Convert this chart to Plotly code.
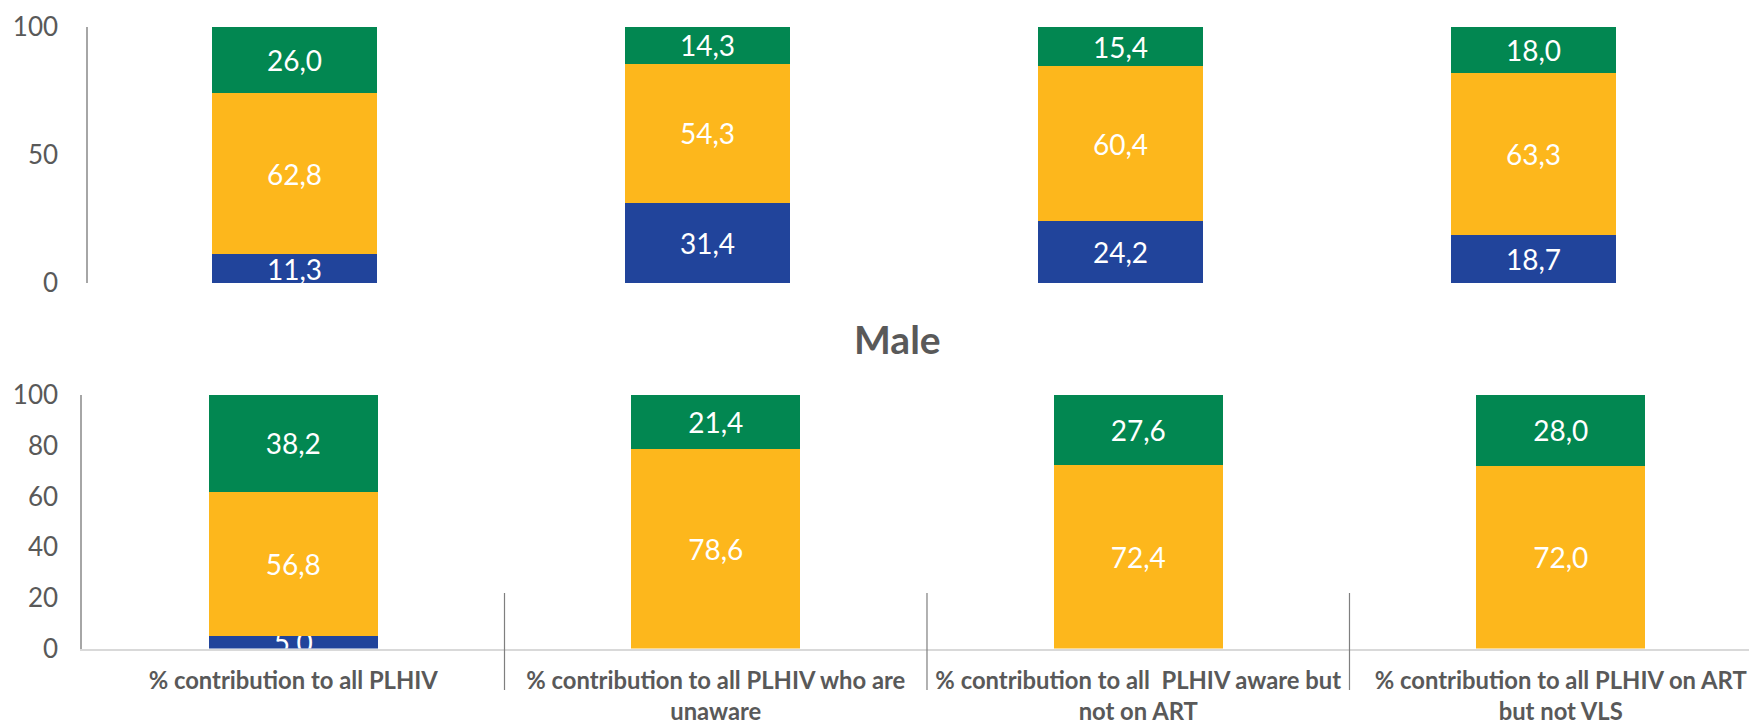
import plotly.graph_objects as go

categories = [
    "% contribution to all PLHIV",
    "% contribution to all PLHIV who are<br>unaware",
    "% contribution to all  PLHIV aware but<br>not on ART",
    "% contribution to all PLHIV on ART<br>but not VLS",
]

# Top panel
top_blue = [11.3, 31.4, 24.2, 18.7]
top_yellow = [62.8, 54.3, 60.4, 63.3]
top_green = [26.0, 14.3, 15.4, 18.0]

# Bottom panel (Male)
male_blue = [5.0, 0.0, 0.0, 0.0]
male_yellow = [56.8, 78.6, 72.4, 72.0]
male_green = [38.2, 21.4, 27.6, 28.0]

top_ticks = [0, 50, 100]
male_ticks = [0, 20, 40, 60, 80, 100]

BLUE = "#21449B"
YELLOW = "#FDB71C"
GREEN = "#028751"
GREY = "#595959"
FONT = "Lato"

# page body has an 8px margin: the figure starts at (8, 8) in the window
OFF = 8
W, H = 1757 - OFF, 726 - OFF


def fmt(vals):
    return [("%.1f" % v).replace(".", ",") if v > 0 else "" for v in vals]


fig = go.Figure()

def add_bars(vals, color, xa, ya):
    fig.add_trace(go.Bar(
        x=categories, y=vals, marker=dict(color=color, line=dict(width=0)),
        text=fmt(vals), texttemplate="%{text}", textposition="inside",
        insidetextanchor="middle", constraintext="none", textangle=0,
        insidetextfont=dict(color="white", size=28, family=FONT),
        cliponaxis=True, xaxis=xa, yaxis=ya, showlegend=False, hoverinfo="skip",
    ))

add_bars(top_blue, BLUE, "x", "y")
add_bars(top_yellow, YELLOW, "x", "y")
add_bars(top_green, GREEN, "x", "y")
add_bars(male_blue, BLUE, "x2", "y2")
add_bars(male_yellow, YELLOW, "x2", "y2")
add_bars(male_green, GREEN, "x2", "y2")

px = lambda v: (v - OFF) / W
py = lambda v: 1 - (v - OFF) / H

fig.update_layout(
    width=W, height=H,
    margin=dict(l=0, r=0, t=0, b=0, autoexpand=False),
    paper_bgcolor="white", plot_bgcolor="white",
    barmode="stack", bargap=0.6,
    font=dict(family=FONT, color=GREY),
    showlegend=False,
    xaxis=dict(domain=[px(88), px(1740)], type="category", range=[-0.5, 3.5],
               showticklabels=False, showline=False, showgrid=False, zeroline=False,
               automargin=False,
               anchor="y", categoryorder="array", categoryarray=categories),
    yaxis=dict(domain=[py(283), py(27)], range=[0, 100], tickvals=top_ticks,
               showline=True, linecolor="#A6A6A6", linewidth=1.5, showgrid=False,
               zeroline=False, ticks="", ticklabelstandoff=23, automargin=False,
               tickfont=dict(size=26, color=GREY, family=FONT), anchor="x"),
    xaxis2=dict(domain=[px(82), 1.0], type="category",
                range=[-0.5, 3.5 - (1772 - 1757) / 423], showline=True,
                linecolor="#D9D9D9", linewidth=2, showgrid=False, zeroline=False,
                ticks="", ticklabelstandoff=10, automargin=False,
                tickfont=dict(size=23.8, color=GREY, family=FONT, weight="bold"),
                anchor="y2", categoryorder="array", categoryarray=categories),
    yaxis2=dict(domain=[py(648.5), py(395)], range=[0, 100], tickvals=male_ticks,
                showline=True, linecolor="#A6A6A6", linewidth=1.5, showgrid=False,
                zeroline=False, ticks="", ticklabelstandoff=17, automargin=False,
                tickfont=dict(size=26, color=GREY, family=FONT), anchor="x2"),
)

# category separators (at category boundaries)
for i in range(len(categories) - 1):
    fig.add_shape(type="line", xref="x2", yref="paper",
                  x0=i + 0.5, x1=i + 0.5, y0=py(690), y1=py(593),
                  line=dict(color="#7F7F7F", width=1.2))

fig.add_annotation(text="<b>Male</b>", xref="paper", yref="paper",
                   x=px(897), y=py(339), showarrow=False,
                   font=dict(size=39, color=GREY, family=FONT))

fig.write_html("out.html")
